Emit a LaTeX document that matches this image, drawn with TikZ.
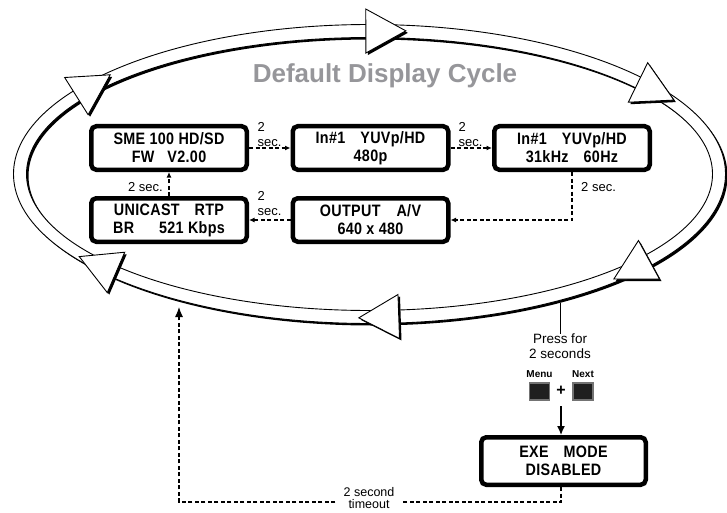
\documentclass[tikz,border=0pt]{standalone}
\usepackage{fontspec}
\setmainfont{Liberation Sans}
\newfontfamily\lcdfont[FakeStretch=0.87,LetterSpace=2]{Liberation Sans}
\usetikzlibrary{arrows.meta}
\definecolor{titlegray}{RGB}{150,150,154}

\begin{document}
\begin{tikzpicture}[x=1pt,y=-1pt,
  lcd/.style={draw, line width=4.5pt, rounded corners=5pt, minimum width=155.5pt,
    minimum height=43.5pt, inner sep=0pt, align=center,
    font=\lcdfont\bfseries\fontsize{16.5}{18}\selectfont},
  lbl/.style={inner sep=0pt, font=\fontsize{13}{15}\selectfont},
  dashline/.style={line width=1.1pt, dash pattern=on 4pt off 2.5pt},
  smalltip/.style={-{Latex[length=5.5pt,width=5pt]}},
  bigtip/.style={-{Latex[length=10pt,width=8pt]}},
  btn/.style={draw=black!55, fill=black!88, line width=1.5pt, minimum width=20pt,
    minimum height=17pt, inner sep=0pt},
  ribbonline/.style={line width=0.9pt}
]
\useasboundingbox (0,0) rectangle (727,513);

% ---- cycle ribbon: a band with a drop shadow ----
\fill[black, shift={(2,2)}, even odd rule]
  (369.5,174) ellipse [x radius=356pt, y radius=149.5pt]
  (369.5,174) ellipse [x radius=343pt, y radius=136.5pt];
\fill[white, even odd rule]
  (369.5,174) ellipse [x radius=356pt, y radius=149.5pt]
  (369.5,174) ellipse [x radius=343pt, y radius=136.5pt];
\draw[ribbonline] (369.5,174) ellipse [x radius=356pt, y radius=149.5pt];
\draw[ribbonline] (369.5,174) ellipse [x radius=343pt, y radius=136.5pt];

% hollow arrowheads along the ribbon, pointing clockwise
\foreach \t in {147,90.6,39.8,-36.9,-85.2,-136.5}{
  \pgfmathsetmacro\px{369.5+349.5*cos(\t)}
  \pgfmathsetmacro\py{174-143*sin(\t)}
  \pgfmathsetmacro\ph{atan2(1.43*cos(\t),3.495*sin(\t))}
  \fill[black, shift={(\px+2,\py+2)}, rotate=-\ph] (0,-22) -- (40,0) -- (0,22) -- cycle;
  \filldraw[fill=white, ribbonline, shift={(\px,\py)}, rotate=-\ph]
    (0,-22) -- (40,0) -- (0,22) -- cycle;
}

% ---- title ----
\node[font=\bfseries\fontsize{26}{26}\selectfont, text=titlegray, anchor=base]
  (title) at (385,83) {Default Display Cycle};

% ---- display screens ----
\node[lcd] (b1) at (169,148) {SME 100 HD/SD\\FW\hspace{13pt}V2.00};
\node[lcd] (b2) at (370.5,148) {In\#1\hspace{15pt}YUVp/HD\\480p};
\node[lcd] (b3) at (572,148) {In\#1\hspace{15pt}YUVp/HD\\31kHz\hspace{15pt}60Hz};
\node[lcd] (b4) at (169,220) {UNICAST\hspace{15pt}RTP\\BR\hspace{25pt}521 Kbps};
\node[lcd] (b5) at (370.5,220) {OUTPUT\hspace{16pt}A/V\\640 x 480};
\node[lcd, minimum width=164.5pt, minimum height=47.5pt] (b6) at (563.5,461)
  {EXE\hspace{15pt}MODE\\DISABLED};

% ---- timing labels ----
\node[lbl, anchor=west, align=left] (l12) at (257.5,134.5) {2\\sec.};
\node[lbl, anchor=west, align=left] (l23) at (458.5,134.5) {2\\sec.};
\node[lbl, anchor=west] (l35) at (581,187) {2 sec.};
\node[lbl, anchor=west, align=left] (l54) at (257.5,204) {2\\sec.};
\node[lbl, anchor=east] (l41) at (163,187) {2 sec.};

% ---- timed transitions ----
\draw[dashline, smalltip] (b1) -- (b2);
\draw[dashline, smalltip] (b2) -- (b3);
\draw[dashline, smalltip] (b3.south) |- (b5.east);
\draw[dashline, smalltip] (b5) -- (b4);
\draw[dashline, smalltip] (b4) -- (b1);

% ---- button press to EXE mode ----
\coordinate (presstop) at (560,303);
\node[lbl, align=center, anchor=north, font=\fontsize{13.5}{14.5}\selectfont]
  (press) at (560,334) {Press for\\2 seconds};
\draw[line width=0.9pt] (presstop) -- (press.north);

\node[font=\bfseries\fontsize{10}{11}\selectfont, inner sep=0pt] (menu) at (539.5,374) {Menu};
\node[font=\bfseries\fontsize{10}{11}\selectfont, inner sep=0pt] (next) at (583,374) {Next};
\node[btn] (bm) at (539.5,391.5) {};
\node[btn] (bn) at (583,391.5) {};
\node[font=\bfseries\fontsize{16}{16}\selectfont, inner sep=0pt] (plus) at (561,391) {+};
\coordinate (arrtop) at (561,406);
\draw[line width=1.3pt, -{Latex[length=9pt,width=8pt]}] (arrtop) -- (b6.north -| arrtop);

% ---- timeout back into the cycle ----
\node[lbl, align=center, anchor=north, inner xsep=8pt, font=\fontsize{12.5}{12}\selectfont]
  (tmo) at (369,487) {2 second\\timeout};
\coordinate (tR) at (561,502);
\coordinate (tL) at (179,502);
\coordinate (tTip) at (179,307);
\draw[dashline] (b6.south -| tR) -- (tR) -- (tmo.east |- tR);
\draw[dashline, bigtip] (tmo.west |- tL) -- (tL) -- (tTip);
\end{tikzpicture}
\end{document}
